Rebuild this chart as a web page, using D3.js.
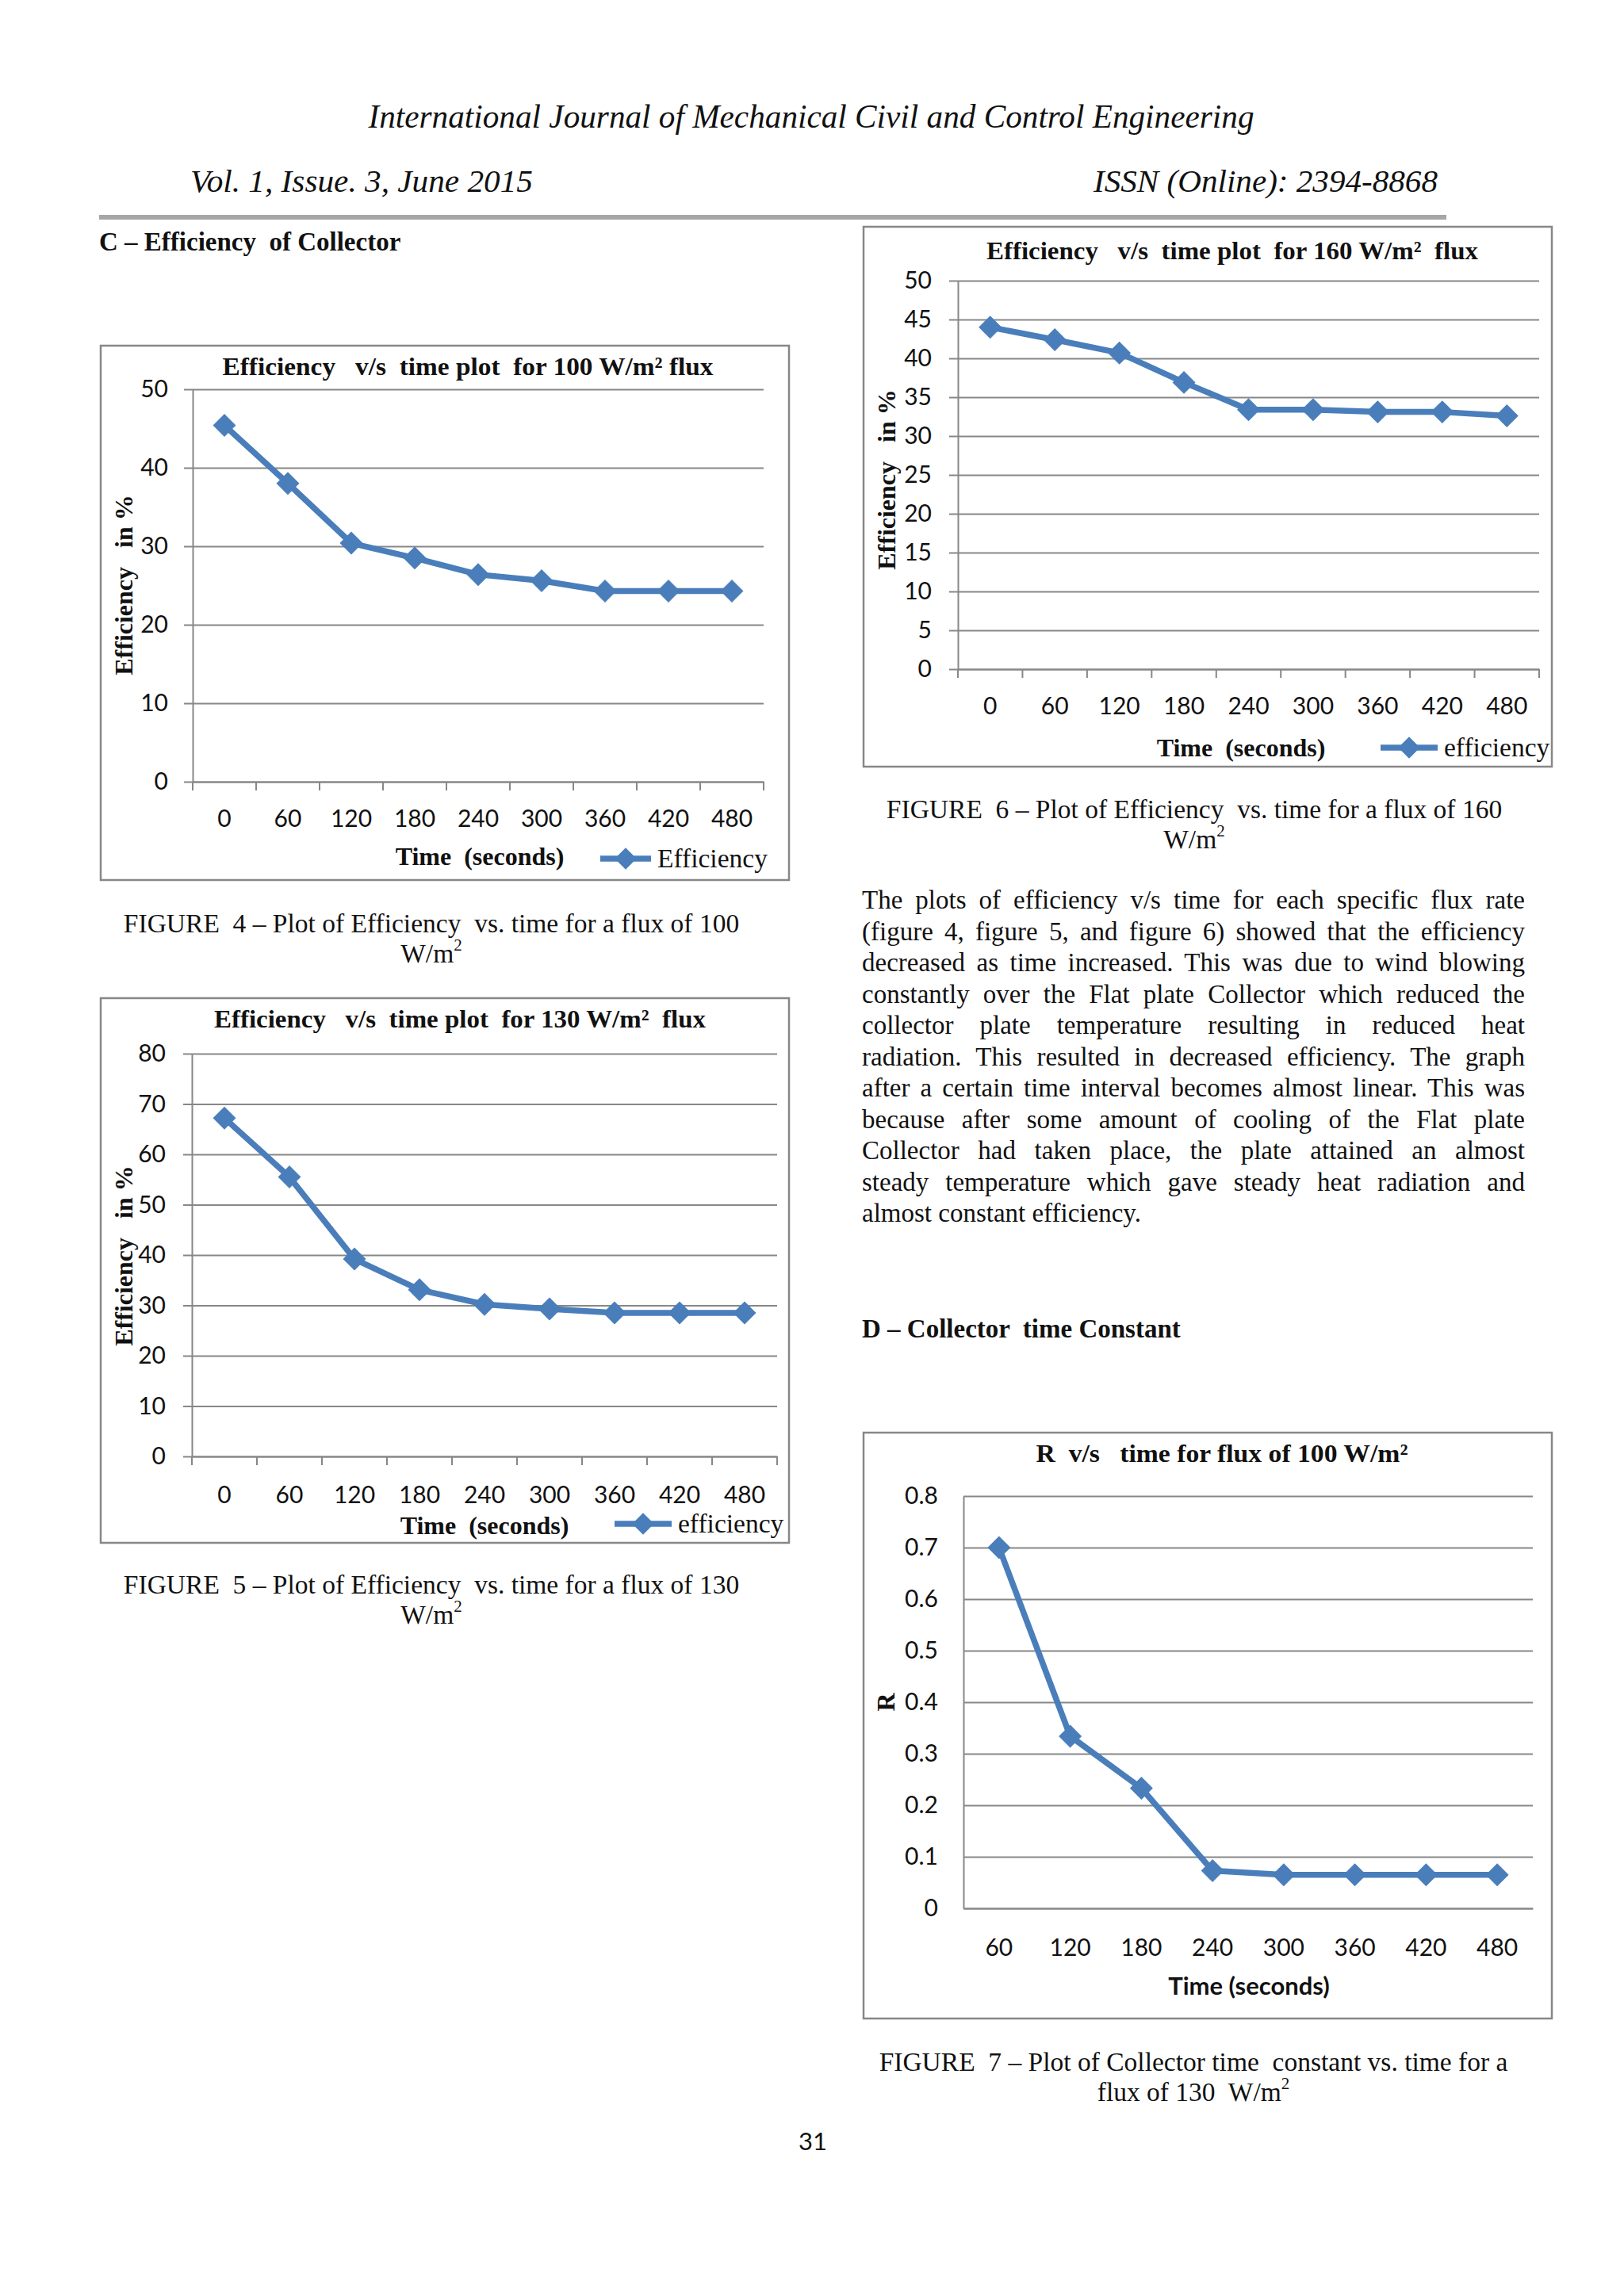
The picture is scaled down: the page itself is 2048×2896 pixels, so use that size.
<!DOCTYPE html>
<html>
<head>
<meta charset="utf-8">
<script src="https://cdn.jsdelivr.net/npm/d3@7"></script>
<style>
body { margin: 0; background: #fff; }
text { white-space: pre; }
</style>
</head>
<body>
<svg id="page"></svg>
<script>
// values
let timeCats = ['0', '60', '120', '180', '240', '300', '360', '420', '480'];
let timeCatsR = ['60', '120', '180', '240', '300', '360', '420', '480'];
let eff100 = [45.4, 38.0, 30.4, 28.5, 26.4, 25.6, 24.3, 24.3, 24.3];
let eff130 = [67.2, 55.5, 39.2, 33.1, 30.2, 29.3, 28.5, 28.5, 28.5];
let eff160 = [44.0, 42.4, 40.7, 36.9, 33.4, 33.4, 33.1, 33.1, 32.6];
let rValues = [0.70, 0.334, 0.233, 0.073, 0.065, 0.065, 0.065, 0.065];
let ticks50 = [0, 10, 20, 30, 40, 50];
let ticks80 = [0, 10, 20, 30, 40, 50, 60, 70, 80];
let ticks50by5 = [0, 5, 10, 15, 20, 25, 30, 35, 40, 45, 50];
let ticksR = [0, 0.1, 0.2, 0.3, 0.4, 0.5, 0.6, 0.7, 0.8];

let paragraph = [
    'The plots of efficiency v/s time for each specific flux rate',
    '(figure 4, figure 5, and figure 6) showed that the efficiency',
    'decreased as time increased. This was due to wind blowing',
    'constantly over the Flat plate Collector which reduced the',
    'collector plate temperature resulting in reduced heat',
    'radiation. This resulted in decreased efficiency. The graph',
    'after a certain time interval becomes almost linear. This was',
    'because after some amount of cooling of the Flat plate',
    'Collector had taken place, the plate attained an almost',
    'steady temperature which gave steady heat radiation and',
    'almost constant efficiency.'
];

let width = 2048;
let height = 2896;
let blue = '#4a7ebb';
let grey = '#878787';
let serif = '"Liberation Serif", "Times New Roman", serif';
let sans = 'Lato, "Open Sans", sans-serif';

let svg = d3.select('#page').attr('width', width).attr('height', height);
svg.append('rect').attr('width', width).attr('height', height).attr('fill', '#fff');

let addText = (str, x, y, opts) => {
    let t = svg.append('text')
        .attr('x', x).attr('y', y)
        .attr('font-family', opts.family || serif)
        .attr('font-size', opts.size || 30)
        .attr('font-weight', opts.weight || 'normal')
        .attr('font-style', opts.style || 'normal')
        .attr('text-anchor', opts.anchor || 'start')
        .attr('fill', '#111')
        .text(str);
    if (opts.len) t.attr('textLength', opts.len).attr('lengthAdjust', 'spacingAndGlyphs');
    return t;
};

/* page header */
addText('International Journal of Mechanical Civil and Control Engineering', 1023, 161, {size: 42, style: 'italic', anchor: 'middle', len: 1117});
addText('Vol. 1, Issue. 3, June 2015', 240, 242, {size: 40, style: 'italic', len: 432});
addText('ISSN (Online): 2394-8868', 1379, 242, {size: 40, style: 'italic', len: 434});
svg.append('rect').attr('x', 125).attr('y', 271).attr('width', 1699).attr('height', 6).attr('fill', '#a6a6a6');

addText('C \u2013 Efficiency  of Collector', 125, 316, {size: 33, weight: 'bold'});
addText('D \u2013 Collector  time Constant', 1087, 1687, {size: 33, weight: 'bold'});
addText('31', 1025, 2712, {family: sans, size: 31, anchor: 'middle'});

/* justified paragraph, extra room goes between words */
paragraph.forEach((line, i) => {
    let t = addText(line, 1087, 1146 + i * 39.5, {size: 33});
    if (i < paragraph.length - 1) {
        let gaps = line.split(' ').length - 1;
        let natural = t.node().getComputedTextLength();
        t.attr('word-spacing', (836 - natural) / gaps);
    }
});

/* figure captions with a raised 2 */
let caption = (l1, l2, cx, y) => {
    addText(l1, cx, y, {size: 33.5, anchor: 'middle'});
    let t = addText(l2, cx, y + 38, {size: 33.5, anchor: 'middle'});
    t.append('tspan').attr('font-size', 21).attr('dy', -15).text('2');
};
caption('FIGURE  4 \u2013 Plot of Efficiency  vs. time for a flux of 100', 'W/m', 544, 1176);
caption('FIGURE  5 \u2013 Plot of Efficiency  vs. time for a flux of 130', 'W/m', 544, 2010);
caption('FIGURE  6 \u2013 Plot of Efficiency  vs. time for a flux of 160', 'W/m', 1506, 1032);
caption('FIGURE  7 \u2013 Plot of Collector time  constant vs. time for a', 'flux of 130  W/m', 1505, 2612);

/* one excel-style line chart */
let drawChart = (c) => {
    let g = svg.append('g');
    g.append('rect')
        .attr('x', c.frame[0]).attr('y', c.frame[1])
        .attr('width', c.frame[2] - c.frame[0]).attr('height', c.frame[3] - c.frame[1])
        .attr('fill', '#fff').attr('stroke', grey).attr('stroke-width', 2.5);

    let xScale = d3.scaleBand().domain(c.cats).range([c.x0, c.x1]).padding(0);
    let yScale = d3.scaleLinear().domain(c.domain).range([c.yb, c.yt]);

    // gridlines
    g.append('g')
        .attr('transform', 'translate(' + c.x0 + ',0)')
        .call(d3.axisLeft(yScale).tickValues(c.yTicks).tickSize(-(c.x1 - c.x0)).tickFormat(''))
        .call(a => a.select('.domain').remove())
        .selectAll('line').attr('stroke', grey).attr('stroke-width', 2);

    // y axis
    let yAxis = g.append('g')
        .attr('transform', 'translate(' + c.x0 + ',0)')
        .call(d3.axisLeft(yScale).tickValues(c.yTicks).tickSize(c.tick).tickPadding(c.yPad).tickSizeOuter(0).tickFormat(d3.format(c.fmt)));
    yAxis.select('.domain').attr('stroke', grey).attr('stroke-width', 2);
    yAxis.selectAll('line').attr('stroke', grey).attr('stroke-width', 2);
    yAxis.selectAll('text').attr('font-family', sans).attr('font-size', 30).attr('fill', '#111');

    // x axis: labels centred in bands, tick marks on band edges
    let xAxis = g.append('g')
        .attr('transform', 'translate(0,' + c.yb + ')')
        .call(d3.axisBottom(xScale).tickSize(0).tickPadding(c.xPad).tickSizeOuter(0));
    xAxis.select('.domain').attr('stroke', grey).attr('stroke-width', 2);
    xAxis.selectAll('text').attr('font-family', sans).attr('font-size', 30).attr('fill', '#111');
    if (c.tick > 0) {
        g.append('g').selectAll('line')
            .data(d3.range(c.cats.length + 1))
            .enter().append('line')
            .attr('x1', i => c.x0 + i * xScale.step())
            .attr('x2', i => c.x0 + i * xScale.step())
            .attr('y1', c.yb).attr('y2', c.yb + c.tick)
            .attr('stroke', grey).attr('stroke-width', 2);
    }

    // series
    let pts = c.values.map((v, i) => [xScale(c.cats[i]) + xScale.bandwidth() / 2, yScale(v)]);
    g.append('path')
        .attr('d', d3.line()(pts))
        .attr('fill', 'none').attr('stroke', blue).attr('stroke-width', 7.5)
        .attr('stroke-linejoin', 'round');
    let diamond = d3.symbol().type(d3.symbolSquare).size(380);
    g.selectAll('.mark').data(pts).enter().append('path')
        .attr('class', 'mark')
        .attr('d', diamond)
        .attr('transform', p => 'translate(' + p[0] + ',' + p[1] + ') rotate(45)')
        .attr('fill', blue).attr('stroke', blue).attr('stroke-width', 1);

    // titles
    addText(c.title, c.titleX, c.titleY, {size: 32, weight: 'bold', anchor: 'middle', len: c.titleLen});
    addText(c.xTitle, c.xTitleX, c.xTitleY, {family: c.xTitleFamily || serif, size: c.xTitleSize || 32, weight: 'bold', anchor: 'middle'});
    addText(c.yTitle, 0, 0, {size: 32, weight: 'bold', anchor: 'middle'})
        .attr('transform', 'translate(' + c.yTitleX + ',' + c.yTitleY + ') rotate(-90)');

    // legend
    if (c.legend) {
        let lx = c.legendX, ly = c.legendY;
        g.append('line').attr('x1', lx).attr('x2', lx + c.legendLen).attr('y1', ly).attr('y2', ly)
            .attr('stroke', blue).attr('stroke-width', 7.5);
        g.append('path').attr('d', diamond)
            .attr('transform', 'translate(' + (lx + c.legendLen / 2) + ',' + ly + ') rotate(45)')
            .attr('fill', blue);
        addText(c.legend, lx + c.legendLen + 8, ly + 11, {size: 33.5});
    }
};

drawChart({
    frame: [127, 436, 995, 1110], x0: 243, x1: 963, yb: 986, yt: 491,
    cats: timeCats, values: eff100, domain: [0, 50], yTicks: ticks50, fmt: 'd',
    tick: 11, yPad: 20, xPad: 36,
    title: 'Efficiency   v/s  time plot  for 100 W/m\u00b2 flux', titleX: 590, titleY: 473, titleLen: 619,
    xTitle: 'Time  (seconds)', xTitleX: 605, xTitleY: 1091,
    yTitle: 'Efficiency   in %', yTitleX: 167, yTitleY: 738,
    legend: 'Efficiency', legendX: 757, legendY: 1083, legendLen: 64
});

drawChart({
    frame: [127, 1259, 995, 1946], x0: 242, x1: 980, yb: 1837, yt: 1329,
    cats: timeCats, values: eff130, domain: [0, 80], yTicks: ticks80, fmt: 'd',
    tick: 11, yPad: 22, xPad: 38,
    title: 'Efficiency   v/s  time plot  for 130 W/m\u00b2  flux', titleX: 580, titleY: 1296, titleLen: 620,
    xTitle: 'Time  (seconds)', xTitleX: 611, xTitleY: 1935,
    yTitle: 'Efficiency   in %', yTitleX: 167, yTitleY: 1584,
    legend: 'efficiency', legendX: 775, legendY: 1922, legendLen: 72
});

drawChart({
    frame: [1089, 286, 1957, 967], x0: 1208, x1: 1941, yb: 844, yt: 354,
    cats: timeCats, values: eff160, domain: [0, 50], yTicks: ticks50by5, fmt: 'd',
    tick: 11, yPad: 22, xPad: 36,
    title: 'Efficiency   v/s  time plot  for 160 W/m\u00b2  flux', titleX: 1554, titleY: 327, titleLen: 620,
    xTitle: 'Time  (seconds)', xTitleX: 1565, xTitleY: 954,
    yTitle: 'Efficiency   in %', yTitleX: 1129, yTitleY: 605,
    legend: 'efficiency', legendX: 1741, legendY: 943, legendLen: 72
});

drawChart({
    frame: [1089, 1807, 1957, 2546], x0: 1215, x1: 1933, yb: 2407, yt: 1887,
    cats: timeCatsR, values: rValues, domain: [0, 0.8], yTicks: ticksR, fmt: '~g',
    tick: 0, yPad: 32, xPad: 39,
    title: 'R  v/s   time for flux of 100 W/m\u00b2', titleX: 1541, titleY: 1844, titleLen: 469,
    xTitle: 'Time (seconds)', xTitleX: 1575, xTitleY: 2516, xTitleFamily: sans, xTitleSize: 31,
    yTitle: 'R', yTitleX: 1128, yTitleY: 2147,
    legend: null
});
</script>
</body>
</html>
